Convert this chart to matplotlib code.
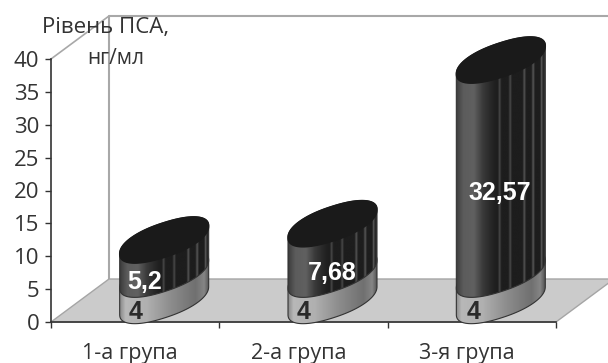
import numpy as np
import matplotlib
matplotlib.use("Agg")
import matplotlib.pyplot as plt
from matplotlib.patches import Polygon
from matplotlib.colors import LinearSegmentedColormap
from matplotlib.transforms import ScaledTranslation

categories = ["1-а група", "2-а група", "3-я група"]
lower_values = [4, 4, 4]
upper_values = [5.2, 7.68, 32.57]
upper_labels = ["5,2", "7,68", "32,57"]
lower_labels = ["4", "4", "4"]
y_ticks = [0, 5, 10, 15, 20, 25, 30, 35, 40]
y_title = ["Рівень ПСА,", "нг/мл"]

W, H = 608, 363
L, R, B, T = 51, 556, 322, 59
fig = plt.figure(figsize=(W / 100, H / 100), dpi=100, facecolor="white")
ax = fig.add_axes([L / W, 1 - B / H, (R - L) / W, (B - T) / H])
ax.set_xlim(0, 3)
ax.set_ylim(0, 40)
ax.patch.set_alpha(0)

# pseudo-3D depth expressed in data units
ux, uy = (R - L) / 3, (B - T) / 40
DX, DY = 58 / ux, 43 / uy
CAP_A = 44.5 / ux          # half width of the cap on screen
CAP_B = 17.5 / uy          # half thickness of the cap
CAP_SLOPE = 14.0 / 44.5 * ux / uy   # rise of the cap towards the right
label_dx = [-19, 0, -1]
label_dy = [-3, -3, -4]
lower_dx = [0, 0, 2]

# back wall and floor
ax.plot([DX, DX, 3 + DX + 1], [DY, 40 + DY, 40 + DY], color="#a8a8a8", lw=1.5, clip_on=False, zorder=1)
ax.plot([0, DX], [40, 40 + DY], color="#a8a8a8", lw=1.2, clip_on=False, zorder=1)
ax.add_patch(Polygon([(0, 0), (3, 0), (3 + DX, DY), (DX, DY)], closed=True, facecolor="#cbcbcb",
                     edgecolor="#a5a5a5", lw=1, clip_on=False, zorder=1))

dark_cmap = LinearSegmentedColormap.from_list("dark", [
    (0, "#3c3c3c"), (0.08, "#5c5c5c"), (0.2, "#606060"), (0.3, "#3a3a3a"), (0.42, "#222222"),
    (0.47, "#1d1d1d"), (0.49, "#4a4a4a"), (0.51, "#1d1d1d"), (0.59, "#1d1d1d"), (0.61, "#4c4c4c"),
    (0.63, "#1d1d1d"), (0.75, "#1d1d1d"), (0.77, "#555555"), (0.79, "#1d1d1d"), (0.85, "#1d1d1d"),
    (0.87, "#5a5a5a"), (0.89, "#1d1d1d"), (0.95, "#1d1d1d"), (0.965, "#666666"), (0.98, "#222222"),
    (1, "#333333")])
light_cmap = LinearSegmentedColormap.from_list("light", [
    (0, "#8a8a8a"), (0.06, "#b8b8b8"), (0.3, "#b0b0b0"), (0.55, "#8f8f8f"),
    (0.85, "#707070"), (0.95, "#858585"), (1, "#555555")])

POW = 0.9  # fuller-than-elliptic outline of the cylinder caps


def ellipse(i, level, t):
    cx = i + 0.5 + DX / 2
    c = np.cos(t)
    s = np.sin(t)
    c = np.sign(c) * np.abs(c) ** POW
    s = np.sign(s) * np.abs(s) ** POW
    dx = CAP_A * c
    x = cx + dx
    y = level + DY / 2 + CAP_SLOPE * dx + CAP_B * s
    return x, y


def segment(i, v0, v1, cmap, z):
    tt = np.linspace(0, -np.pi, 200)            # lower front arc, right to left
    xb, yb = ellipse(i, v0, tt)
    ttop = np.linspace(np.pi, 0, 200)           # upper back arc, left to right
    xt, yt = ellipse(i, v1, ttop)
    poly = Polygon(np.column_stack([np.r_[xb, xt], np.r_[yb, yt]]), closed=True, facecolor="none",
                   edgecolor="#333333", lw=0.8, clip_on=False, zorder=z + 0.1)
    ax.add_patch(poly)
    im = ax.imshow(np.linspace(0, 1, 400)[None, :], cmap=cmap, aspect="auto", vmin=0, vmax=1,
                   extent=(xb.min(), xb.max(), yb.min() - 1, yt.max() + 1), zorder=z, interpolation="bilinear")
    im.set_clip_box(fig.bbox)
    im.set_clip_path(poly)


for i, (lo, up) in enumerate(zip(lower_values, upper_values)):
    z = 3 + i
    segment(i, 0, lo, light_cmap, z)
    segment(i, lo, lo + up, dark_cmap, z + 0.2)
    t = np.linspace(0, 2 * np.pi, 360)
    ex, ey = ellipse(i, lo + up, t)
    ax.fill(ex, ey, color="#1a1a1a", ec="#1a1a1a", lw=1, clip_on=False, zorder=z + 0.4)
    ax.annotate(upper_labels[i], (i + 0.5 + DX / 2, lo + up / 2), xytext=(label_dx[i], label_dy[i]),
                textcoords="offset pixels", ha="center", va="center", color="white", fontsize=18,
                fontweight="bold", family="Liberation Sans", zorder=z + 0.5)
    ax.annotate(lower_labels[i], (i + 0.5, lo / 2), xytext=(lower_dx[i], -3), textcoords="offset pixels", ha="center",
                va="center", color="#2a2a2a", fontsize=18, fontweight="bold", family="Liberation Sans",
                zorder=z + 0.5)

ax.set_xlim(0, 3)
ax.set_ylim(0, 40)

# axes
for s in ("top", "right"):
    ax.spines[s].set_visible(False)
for s in ("left", "bottom"):
    ax.spines[s].set_color("#333333")
    ax.spines[s].set_linewidth(1.2)
    ax.spines[s].set_zorder(2)
ax.set_yticks(y_ticks)
ax.set_yticklabels([str(v) for v in y_ticks], fontsize=16, family="Open Sans", color="#333333")
ax.tick_params(axis="y", length=4.5, width=1, color="#333333", pad=4)
ax.set_xticks(range(4))
ax.set_xticklabels([])
ax.tick_params(axis="x", which="major", length=4, width=1, color="#333333")
ax.set_xticks(np.arange(3) + 0.5, minor=True)
ax.set_xticklabels(categories, minor=True, fontsize=15.5, family="Open Sans", color="#333333")
ax.tick_params(axis="x", which="minor", length=0, pad=15)
shift = ScaledTranslation(-5 / 100, 0, fig.dpi_scale_trans)
for lab in ax.get_xticklabels(minor=True):
    lab.set_transform(lab.get_transform() + shift)

# axis title
fig.text(106 / W, 1 - 27 / H, y_title[0], ha="center", va="center", fontsize=16, family="Open Sans", color="#333333", zorder=10)
fig.text(116 / W, 1 - 59 / H, y_title[1], ha="center", va="center", fontsize=15, family="Open Sans", color="#333333", zorder=10)

fig.savefig("out.png", dpi=100, facecolor="white")
